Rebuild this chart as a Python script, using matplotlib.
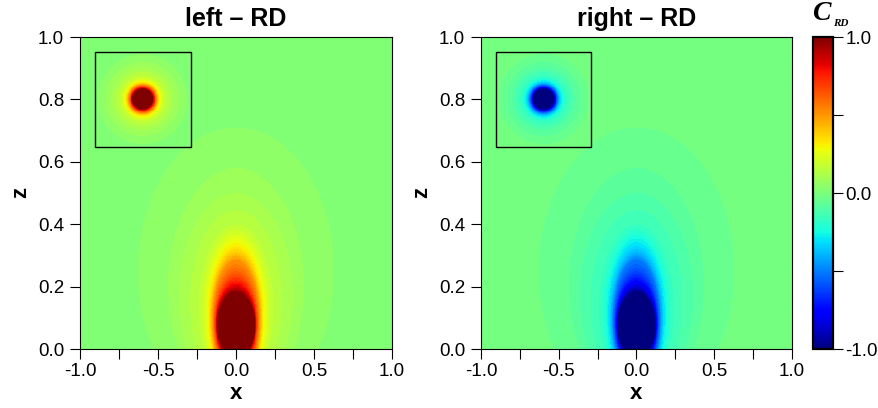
import numpy as np
import matplotlib
matplotlib.use("Agg")
import matplotlib.pyplot as plt
from matplotlib.colors import Normalize
from matplotlib.patches import Rectangle
import matplotlib.cm as cm

plt.rcParams['font.family'] = ['Liberation Sans', 'DejaVu Sans']

# main plume: contour ellipses (inner -> outer)
lev_vals = [1.0, 0.75, 0.5, 0.25, 5/32, 4/32, 3/32, 2/32, 1/32]
lev_center = [0.075, 0.08, 0.09, 0.11, 0.13, 0.15, 0.17, 0.20, 0.25]
lev_top = [0.18, 0.215, 0.285, 0.355, 0.40, 0.445, 0.50, 0.58, 0.71]
lev_halfw = [0.12, 0.13, 0.15, 0.19, 0.24, 0.295, 0.365, 0.435, 0.63]

# small blob in the framed box (radii in z units, circular on screen)
blob_x, blob_z = -0.6, 0.8
blob_vals = [1.0, 0.75, 0.5, 0.25, 5/32, 4/32, 3/32, 2/32, 1/32]
blob_r = [0.032, 0.038, 0.046, 0.060, 0.075, 0.088, 0.100, 0.119, 0.144]
box_x = [-0.905, -0.29]
box_z = [0.647, 0.953]

panel_titles = ['left \u2013 RD', 'right \u2013 RD']
panel_sign = [1, -1]


def level_field(X, Z, cx, cz, ax_, bz_, vals):
    ax_ = np.asarray(ax_)[:, None, None]
    bz_ = np.asarray(bz_)[:, None, None]
    cz = np.asarray(cz)[:, None, None] if np.ndim(cz) else cz
    q = np.sqrt(((X - cx) / ax_) ** 2 + ((Z - cz) / bz_) ** 2)
    inside = q <= 1
    n = len(vals)
    first = np.where(inside.any(0), inside.argmax(0), n)
    lv = np.log(np.asarray(vals))
    f = np.empty(X.shape)
    f[first == 0] = 1.2
    out = first == n
    f[out] = vals[-1] / q[-1][out] ** 2
    mid = (first > 0) & (first < n)
    j = first[mid]
    qi = q[j - 1, mid]
    qo = q[j, mid]
    t = (qi - 1) / (qi - qo)
    f[mid] = np.exp(lv[j - 1] + t * (lv[j] - lv[j - 1]))
    return f


x = np.linspace(-1, 1, 801)
z = np.linspace(0, 1, 401)
X, Z = np.meshgrid(x, z)
b_main = np.array(lev_top) - np.array(lev_center)
F = level_field(X, Z, 0.0, np.array(lev_center), lev_halfw, b_main, lev_vals)

xb = np.linspace(box_x[0], box_x[1], 200)
zb = np.linspace(box_z[0], box_z[1], 200)
XB, ZB = np.meshgrid(xb, zb)
FB = level_field(XB, ZB, blob_x, blob_z, np.array(blob_r) * 2, blob_r, blob_vals)

cmap_q = plt.get_cmap('jet', 64)
norm = Normalize(-1, 1)

fig = plt.figure(figsize=(8.79, 4.08), dpi=100)
ax1 = fig.add_axes([80/879, 59/408, 312/879, 312/408])
ax2 = fig.add_axes([481/879, 59/408, 311/879, 312/408])
cax = fig.add_axes([813/879, 59/408, 20/879, 312/408])

for ax, title, s in zip([ax1, ax2], panel_titles, panel_sign):
    ax.imshow(s * F, extent=[-1, 1, 0, 1], origin='lower', cmap=cmap_q,
              norm=norm, aspect='auto', interpolation='nearest')
    ax.imshow(s * FB, extent=[box_x[0], box_x[1], box_z[0], box_z[1]],
              origin='lower', cmap=cmap_q, norm=norm, aspect='auto',
              interpolation='nearest', zorder=2)
    ax.add_patch(Rectangle((box_x[0], box_z[0]), box_x[1] - box_x[0],
                           box_z[1] - box_z[0], fill=False, ec='black',
                           lw=1.0, zorder=3))
    ax.set_xlim(-1, 1)
    ax.set_ylim(0, 1)
    ax.set_xticks([-1, -0.5, 0, 0.5, 1])
    ax.set_xticklabels(['-1.0', '-0.5', '0.0', '0.5', '1.0'])
    ax.set_xticks([-0.75, -0.25, 0.25, 0.75], minor=True)
    ax.set_yticks([0, 0.2, 0.4, 0.6, 0.8, 1.0])
    ax.set_yticklabels(['0.0', '0.2', '0.4', '0.6', '0.8', '1.0'])
    ax.tick_params(which='both', direction='out', length=7, width=0.8,
                   labelsize=13.5)
    ax.tick_params(axis='x', pad=3)
    ax.tick_params(axis='y', pad=4.5)
    for sp in ax.spines.values():
        sp.set_linewidth(0.8)
    ax.set_xlabel('x', fontsize=16, fontweight='bold', labelpad=2)
    ax.set_ylabel('z', fontsize=16, fontweight='bold', labelpad=5)
    ax.set_title(title, fontsize=18, fontweight='bold', pad=8)

sm = cm.ScalarMappable(norm=norm, cmap='jet')
cb = fig.colorbar(sm, cax=cax)
cb.set_ticks([-1, -0.5, 0, 0.5, 1])
cb.set_ticklabels(['-1.0', '', '0.0', '', '1.0'])
cb.ax.tick_params(direction='out', length=7, width=0.8, labelsize=13.5, pad=2)
cb.outline.set_linewidth(1.6)

fig.text(821/879, 1 - 13/408, 'C', fontsize=20, fontweight='bold',
         style='italic', family='Liberation Serif', ha='center', va='center')
fig.text(841/879, 1 - 23/408, 'RD', fontsize=8, fontweight='bold',
         style='italic', family='Liberation Serif', ha='center', va='center')

fig.savefig('out.png', dpi=100)
